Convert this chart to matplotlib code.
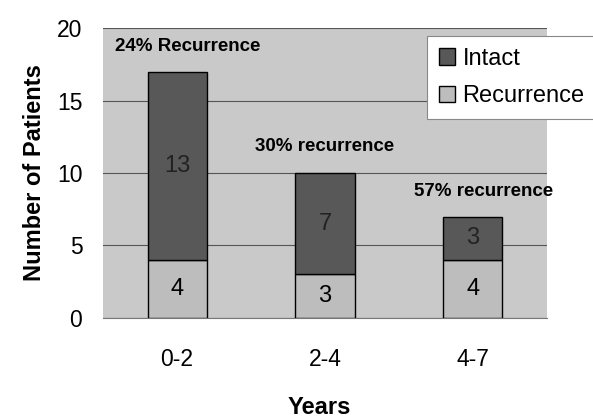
import matplotlib
matplotlib.use("Agg")
import matplotlib.pyplot as plt
import numpy as np

plt.rcParams["font.family"] = ["Liberation Sans", "DejaVu Sans"]

years = ["0-2", "2-4", "4-7"]
recurrence = [4, 3, 4]
intact = [13, 7, 3]
notes = ["24% Recurrence", "30% recurrence", "57% recurrence"]
note_x = [-0.42, 0.53, 1.6]
note_y = [18.7, 11.8, 8.76]

fig = plt.figure(figsize=(5.93, 4.2), dpi=100)
ax = fig.add_axes([0.174, 0.243, 0.748, 0.69])
ax.set_facecolor("#c9c9c9")

x = np.arange(len(years))
w = 0.4
ax.bar(x, recurrence, w, color="#bdbdbd", edgecolor="black", linewidth=1, label="Recurrence", zorder=3)
ax.bar(x, intact, w, bottom=recurrence, color="#585858", edgecolor="black", linewidth=1, label="Intact", zorder=3)

for i in range(len(years)):
    ax.text(x[i], recurrence[i] / 2, str(recurrence[i]), ha="center", va="center", fontsize=17, zorder=4)
    ax.text(x[i], recurrence[i] + intact[i] / 2, str(intact[i]), ha="center", va="center", fontsize=17, color="#222222", zorder=4)

for nx, ny, txt in zip(note_x, note_y, notes):
    ax.text(nx, ny, txt, fontsize=13.5, fontweight="bold", va="center", zorder=4)

ax.set_xlim(-0.5, 2.5)
ax.set_ylim(0, 20)
ax.set_yticks([0, 5, 10, 15, 20])
ax.set_xticks(x)
ax.set_xticklabels(years)
ax.tick_params(axis="both", labelsize=16.5, length=0)
ax.tick_params(axis="y", pad=15)
ax.tick_params(axis="x", pad=22)
ax.yaxis.grid(True, color="#555555", linewidth=0.8, zorder=1)
for s in ["top", "right", "left"]:
    ax.spines[s].set_visible(False)
ax.spines["bottom"].set_color("#777777")

fig.text(0.538, 0.03, "Years", fontsize=17, fontweight="bold", ha="center", va="center")
ax.set_ylabel("Number of Patients", fontsize=17, fontweight="bold", labelpad=8)

h, l = ax.get_legend_handles_labels()
leg = fig.legend(h[::-1], l[::-1], loc="upper left", bbox_to_anchor=(0.72, 0.914),
                 borderaxespad=0,
                 fontsize=17, frameon=True, fancybox=False, edgecolor="#888888",
                 facecolor="white", framealpha=1,
                 handlelength=0.7, handleheight=0.7, handletextpad=0.3, borderpad=0.5,
                 labelspacing=0.65)
leg.get_frame().set_linewidth(0.8)

fig.savefig("out.png", dpi=100)
